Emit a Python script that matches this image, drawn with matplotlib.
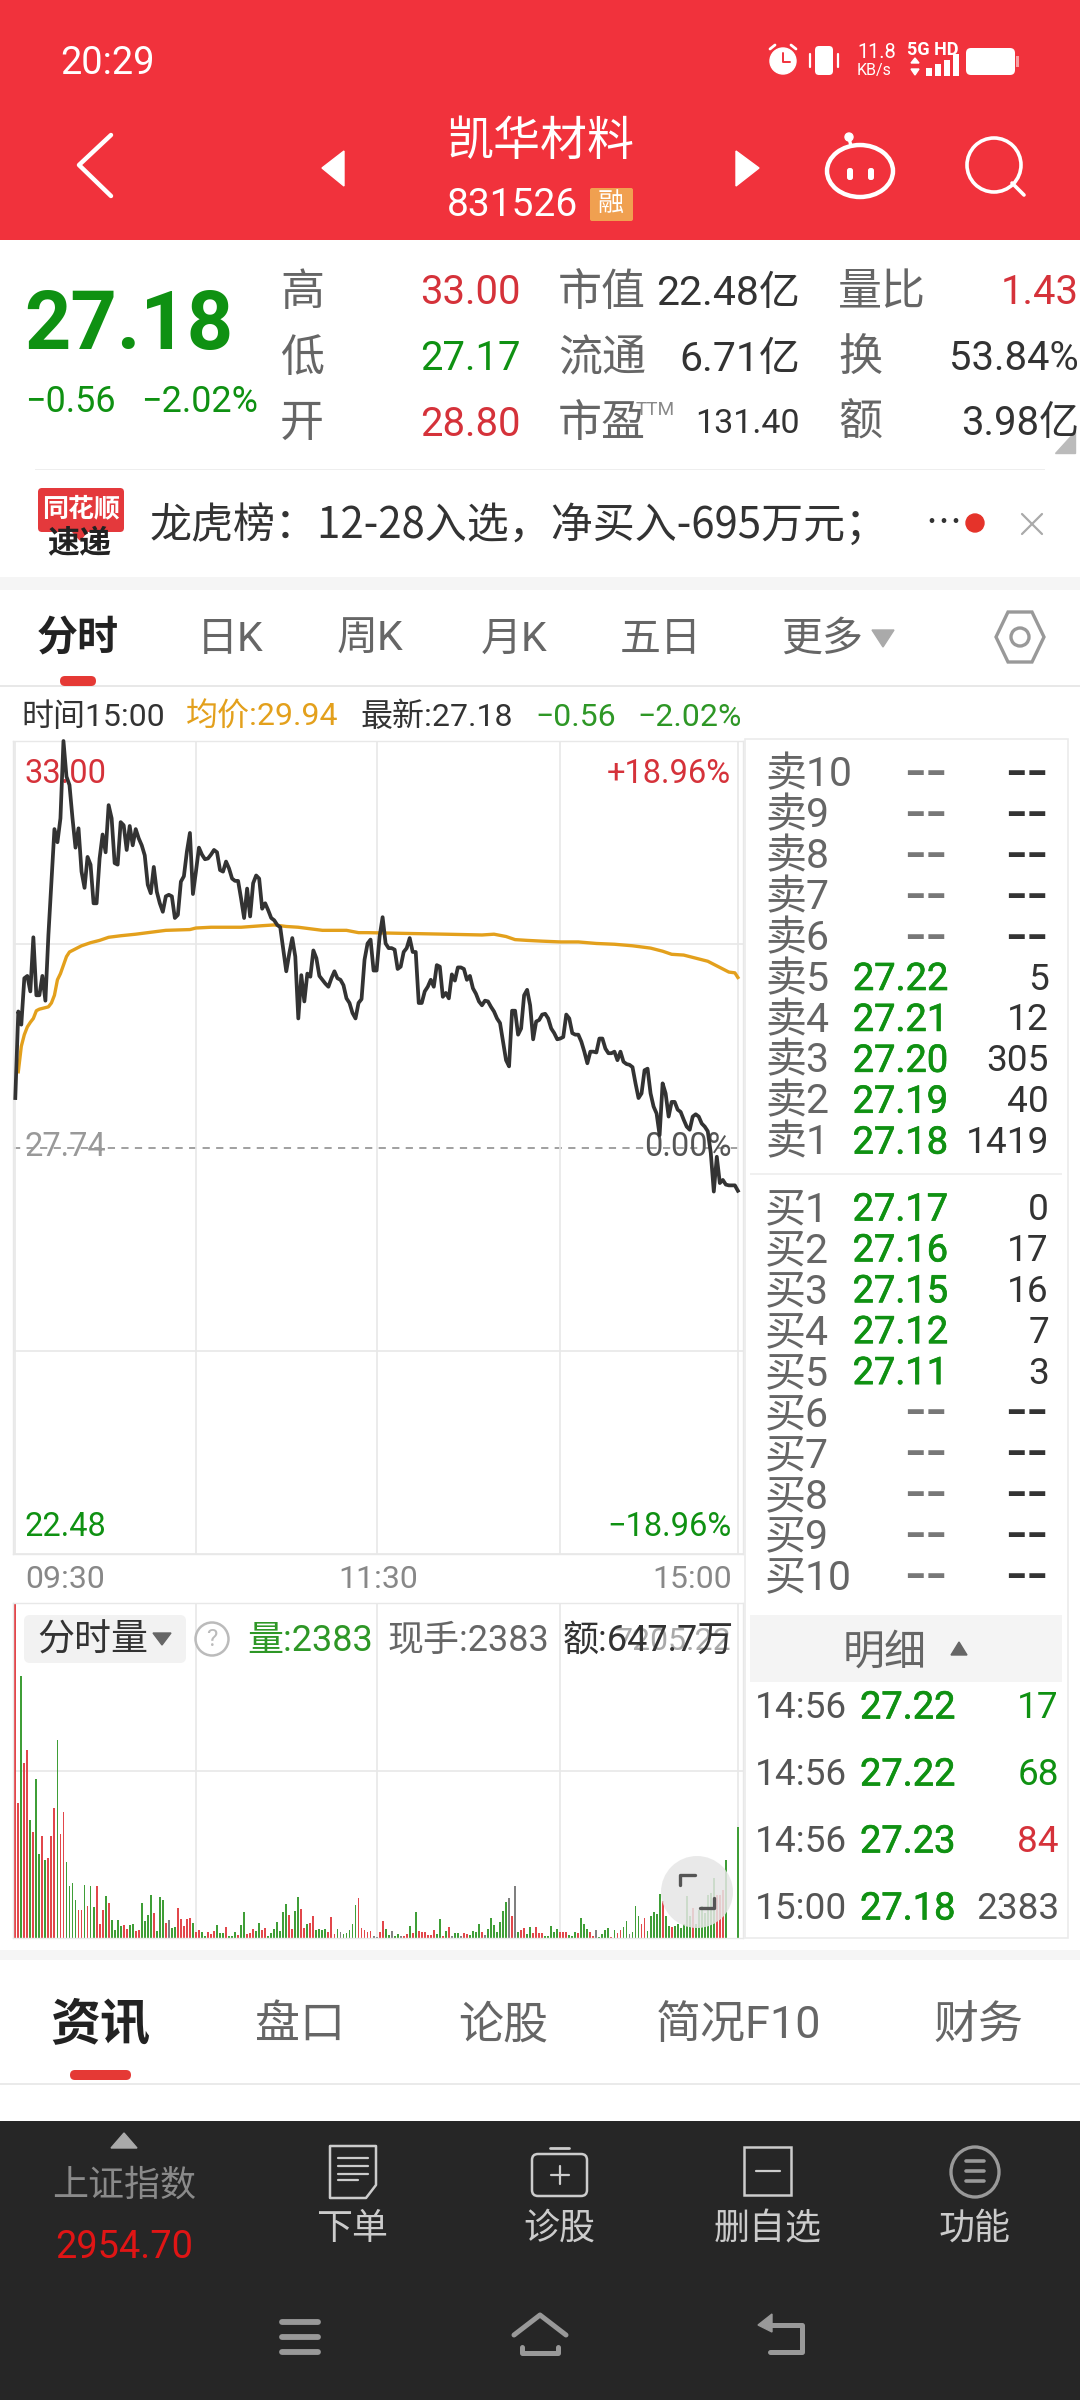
"""Recreate the intraday quote screen (分时) for 凯华材料 831526 and save it as out.png."""

from __future__ import annotations

import matplotlib

matplotlib.use("Agg")

import matplotlib.patheffects as pe
import matplotlib.pyplot as plt
from matplotlib.patches import Circle, Ellipse, FancyBboxPatch, Polygon, Rectangle

plt.rcParams["font.family"] = ["Roboto", "Noto Sans CJK SC", "DejaVu Sans"]

W, H = 1080, 2400

PREV_CLOSE = 27.74
PRICE_HIGH = 33.00
PRICE_LOW = 22.48
VOLUME_TOP = 7205.22

# price per minute, 09:30 to 15:00 (241 trading minutes)
price = [
    28.38, 29.50, 29.33, 29.93, 29.96, 29.76, 30.46, 29.71, 29.71, 29.96,
    29.64, 30.49, 31.18, 31.86, 31.69, 32.00, 33.00, 32.54, 32.43, 32.00,
    31.62, 31.87, 31.31, 31.10, 31.50, 31.40, 30.90, 30.90, 31.48, 31.79,
    31.56, 32.17, 32.00, 31.42, 31.40, 31.95, 31.91, 31.59, 31.90, 31.65,
    31.86, 31.74, 31.65, 31.52, 31.14, 31.03, 31.37, 31.05, 30.90, 30.79,
    30.99, 31.01, 30.99, 30.71, 30.75, 31.18, 31.25, 31.57, 31.81, 31.02,
    31.31, 31.62, 31.53, 31.47, 31.48, 31.53, 31.59, 31.56, 31.33, 31.31,
    31.44, 31.35, 31.22, 31.19, 31.19, 30.96, 30.71, 31.09, 30.73, 31.16,
    31.26, 31.22, 30.83, 30.90, 30.81, 30.71, 30.68, 30.62, 30.59, 30.30,
    30.02, 30.25, 30.45, 30.21, 29.41, 29.97, 29.63, 29.99, 29.95, 30.29,
    30.19, 29.96, 29.91, 29.86, 29.82, 29.93, 30.02, 29.93, 29.91, 29.84,
    29.67, 29.61, 29.48, 29.41, 29.61, 29.66, 30.17, 30.38, 30.43, 30.03,
    30.03, 30.47, 30.72, 30.38, 30.32, 30.32, 30.30, 30.05, 30.08, 30.27,
    30.32, 30.45, 30.27, 30.27, 29.61, 29.61, 29.76, 29.82, 29.91, 29.82,
    30.10, 30.08, 29.69, 29.74, 29.67, 29.98, 29.90, 30.07, 30.07, 30.05,
    29.91, 29.96, 29.80, 29.73, 29.63, 29.58, 29.64, 29.63, 29.56, 29.50,
    29.41, 29.35, 29.11, 28.87, 28.79, 29.51, 29.51, 29.20, 29.28, 29.71,
    29.78, 29.58, 29.14, 29.37, 29.39, 29.46, 29.47, 29.41, 29.28, 29.22,
    29.14, 29.15, 29.17, 29.46, 29.41, 29.22, 29.20, 29.20, 29.11, 28.98,
    28.83, 28.98, 28.98, 28.97, 29.15, 29.15, 29.02, 28.96, 28.96, 28.98,
    28.87, 28.98, 28.85, 28.82, 28.81, 28.78, 28.57, 28.38, 28.44, 28.74,
    28.76, 28.44, 28.27, 28.18, 27.90, 28.57, 28.44, 28.14, 28.33, 28.33,
    28.23, 28.20, 28.10, 28.01, 27.97, 28.14, 28.17, 28.14, 28.05, 28.01,
    27.95, 27.67, 27.17, 27.62, 27.28, 27.32, 27.26, 27.25, 27.25, 27.25,
    27.18,
]

# average price line, read at the minutes where it visibly bends
avg_minutes = [
    1, 2, 3, 4, 5, 6, 7, 8, 10, 11, 12, 13, 14, 15, 16, 17, 18, 19, 20, 22,
    25, 28, 31, 35, 40, 46, 50, 58, 60, 65, 75, 82, 86, 90, 94, 98, 102, 110,
    114, 117, 130, 143, 155, 159, 163, 166, 170, 175, 181, 187, 193, 199, 205,
    211, 215, 218, 222, 226, 230, 234, 237, 239, 240,
]
avg_price = [
    28.72, 29.05, 29.20, 29.30, 29.36, 29.41, 29.51, 29.53, 29.55, 29.56, 29.61,
    29.71, 29.91, 29.99, 30.10, 30.21, 30.27, 30.29, 30.31, 30.35, 30.39, 30.42,
    30.46, 30.48, 30.50, 30.53, 30.55, 30.56, 30.58, 30.59, 30.59, 30.61, 30.62,
    30.60, 30.59, 30.57, 30.55, 30.55, 30.52, 30.52, 30.51, 30.50, 30.49, 30.50,
    30.47, 30.43, 30.42, 30.41, 30.40, 30.40, 30.38, 30.37, 30.35, 30.32, 30.28,
    30.24, 30.23, 30.19, 30.15, 30.07, 30.01, 30.00, 29.94,
]

volume = [
    7205, 2904, 5628, 3764, 4051, 2545, 2273, 3420, 1814, 2187,
    1671, 1714, 2187, 2796, 4266, 2244, 2703, 1642, 1126, 1183,
    825, 609, 595, 1133, 681, 1111, 667, 1111, 301, 609,
    911, 753, 394, 179, 394, 251, 287, 201, 287, 294,
    151, 165, 753, 359, 502, 932, 538, 143, 882, 825,
    323, 394, 208, 237, 645, 416, 265, 409, 423, 323,
    122, 179, 136, 36, 136, 93, 151, 287, 108, 100,
    237, 36, 50, 136, 72, 287, 552, 93, 108, 194,
    151, 323, 179, 222, 50, 108, 194, 351, 151, 552,
    739, 502, 194, 574, 875, 631, 215, 294, 323, 480,
    179, 194, 165, 194, 122, 452, 79, 194, 122, 79,
    108, 179, 301, 710, 853, 222, 165, 122, 151, 36,
    22, 136, 366,
    194, 65, 151, 50, 79, 36, 36, 79, 265, 108,
    566, 151, 122, 136, 65, 65, 165, 93, 409, 36,
    151, 237, 36, 108, 108, 36, 108, 79, 65, 151,
    136, 294, 122, 65, 194, 423, 287, 122, 351, 581,
    767, 853, 466, 1126, 122, 179, 222, 79, 237, 108,
    237, 108, 108, 36, 50, 251, 136, 194, 136, 136,
    136, 65, 36, 136, 108, 430, 294, 194, 122, 36,
    165, 22, 93, 165, 222, 22, 179, 108, 165, 237,
    366, 93, 136, 681, 466, 308, 430, 151, 466, 552,
    523, 954, 789, 466, 251, 237, 251, 294, 208, 294,
    896, 480, 645, 301, 609, 681, 538, 932, 968, 1291,
    932, 932, 1040, 1685, 0, 0, 0, 2383,
]

# one letter per minute: u = up, d = down, f = flat
volume_dir = (
    "uuduududdu" "duuuduuddd" "duududduuu" "dudddduudd"
    "uuddddu" "ddd" "ufdduuuuud" "uudduuuddd" "udddudduuu"
    "dduudddddd" "duudduuduu" "dddduuudfd" "dddduuuuuf" "fuu"
    "ddfddfuudu" "duuuuuuddu" "dufddfuudd" "ddufdddddd" "dfufduuddu"
    "uuuddddduu" "uddduddduu" "fdddduduud" "dfddduuddd" "dduddudddd"
    "dduddddddd" "uuudfffd"
)

price_axis_ticks = [PRICE_HIGH, 30.37, 25.11, PRICE_LOW]
minute_ticks = [0, 60, 120, 181, 240]

stats_row_high = ["高", "33.00", "市值", "22.48亿", "量比", "1.43"]
stats_row_low = ["低", "27.17", "流通", "6.71亿", "换", "53.84%"]
stats_row_open = ["开", "28.80", "市盈", "131.40", "额", "3.98亿"]

tab_names = ["分时", "日K", "周K", "月K", "五日", "更多"]
tab_centers = [78, 230, 370, 514, 661, 822]

sell_labels = ["卖10", "卖9", "卖8", "卖7", "卖6", "卖5", "卖4", "卖3", "卖2", "卖1"]
sell_prices = ["--", "--", "--", "--", "--", "27.22", "27.21", "27.20", "27.19", "27.18"]
sell_lots = ["--", "--", "--", "--", "--", "5", "12", "305", "40", "1419"]
buy_labels = ["买1", "买2", "买3", "买4", "买5", "买6", "买7", "买8", "买9", "买10"]
buy_prices = ["27.17", "27.16", "27.15", "27.12", "27.11", "--", "--", "--", "--", "--"]
buy_lots = ["0", "17", "16", "7", "3", "--", "--", "--", "--", "--"]

tick_times = ["14:56", "14:56", "14:56", "15:00"]
tick_prices = ["27.22", "27.22", "27.23", "27.18"]
tick_lots = ["17", "68", "84", "2383"]

lower_tabs = ["资讯", "盘口", "论股", "简况F10", "财务"]
lower_tab_centers = [100, 300, 503, 739, 978]
footer_names = ["下单", "诊股", "删自选", "功能"]
footer_centers = [352, 559, 768, 975]

RED = "#D5323A"
GREEN = "#0F9112"
SOFT_GREEN = "#2E9726"
ORANGE = "#E3A01C"
DARK = "#333333"
GREY = "#666666"
GRID = "#E8E8E8"
BAR_COLORS = {"u": "#E2474B", "d": "#3F9E37", "f": "#808080"}
TEXT_DROP = 6  # matplotlib centres text a little high for these fonts


def add_axes_px(fig, left, top, right, bottom):
    return fig.add_axes([left / W, 1 - bottom / H, (right - left) / W, (bottom - top) / H])


def draw_price_panel(fig):
    ax = add_axes_px(fig, 13, 741, 743, 1554)
    ax.patch.set_alpha(0)
    ax.set_xlim(-0.76, 241.7)
    ax.set_ylim(PRICE_LOW, PRICE_HIGH)
    ax.set_xticks(minute_ticks)
    ax.set_yticks(price_axis_ticks)
    ax.grid(True, color=GRID, lw=1.2)
    ax.tick_params(length=0, labelbottom=False, labelleft=False)
    for spine in ax.spines.values():
        spine.set_color(GRID)
        spine.set_linewidth(1.0)
    ax.axhline(PREV_CLOSE, color="#999999", lw=1.3, dashes=(4, 3.5), zorder=1)

    trans = ax.get_yaxis_transform()
    for y, s, color, ha in [
        (PRICE_HIGH, "33.00", RED, "left"),
        (PREV_CLOSE, "27.74", "#999999", "left"),
        (PRICE_LOW, "22.48", GREEN, "left"),
        (PRICE_HIGH, "+18.96%", RED, "right"),
        (PREV_CLOSE, "0.00%", "#555555", "right"),
        (PRICE_LOW, "−18.96%", GREEN, "right"),
    ]:
        down_px = {PRICE_HIGH: 33, PREV_CLOSE: 0, PRICE_LOW: -27}[y]
        x = 0.016 if ha == "left" else 0.984
        ax.annotate(s, (x, y), xycoords=trans, xytext=(0, -down_px * 0.72), textcoords="offset points",
                    fontsize=23.5, color=color, ha=ha, va="center", zorder=2)

    ax.plot(avg_minutes, avg_price, color=ORANGE, lw=2.4, zorder=3, solid_joinstyle="round")
    ax.plot(range(len(price)), price, color=DARK, lw=2.7, zorder=4, solid_joinstyle="round", clip_on=False)


def draw_volume_panel(fig):
    ax = add_axes_px(fig, 13, 1603, 743, 1938)
    ax.patch.set_alpha(0)
    ax.set_xlim(-0.76, 241.7)
    ax.set_ylim(0, VOLUME_TOP)
    ax.set_xticks(minute_ticks)
    ax.set_yticks([VOLUME_TOP / 2])
    ax.grid(True, color=GRID, lw=1.2)
    ax.set_axisbelow(True)
    ax.tick_params(length=0, labelbottom=False, labelleft=False)
    for spine in ax.spines.values():
        spine.set_color(GRID)
        spine.set_linewidth(1.0)
    colors = [BAR_COLORS[d] for d in volume_dir]
    ax.bar(range(len(volume)), volume, width=0.62, color=colors, linewidth=0)


def put(ui, x, y, s, px, color=DARK, ha="left", va="center", weight="normal", family=None, z=5):
    kw = {"family": family} if family else {}
    return ui.text(x, y + TEXT_DROP, s, fontsize=px * 0.72, color=color, ha=ha, va=va, weight=weight, zorder=z, **kw)


def put_medium(ui, x, y, s, px, color, ha="left"):
    # regular face with a hair of stroke, the bundled medium reads too heavy here
    t = put(ui, x, y, s, px, color, ha=ha)
    t.set_path_effects([pe.withStroke(linewidth=0.5, foreground=color)])
    return t


def rect(ui, x0, y0, x1, y1, color, z=1):
    ui.add_patch(Rectangle((x0, y0), x1 - x0, y1 - y0, color=color, lw=0, zorder=z))


def rounded(ui, x0, y0, x1, y1, r, face, edge="none", lw=0, z=2):
    ui.add_patch(FancyBboxPatch((x0 + r, y0 + r), x1 - x0 - 2 * r, y1 - y0 - 2 * r,
                                boxstyle=f"round,pad={r}", fc=face, ec=edge, lw=lw, zorder=z))


def stroke(ui, xs, ys, color, lw, z=4):
    ui.plot(xs, ys, color=color, lw=lw, zorder=z, solid_capstyle="round", solid_joinstyle="round")


def draw_header(ui):
    rect(ui, 0, 0, W, 240, "#F1323C")
    put(ui, 60, 57, "20:29", 38, "white")

    # status bar icons
    ui.add_patch(Circle((783, 61), 13, color="white", zorder=4))
    stroke(ui, [783, 783, 790], [53, 62, 62], "#F1323C", 1.4, z=5)
    stroke(ui, [770, 775], [49, 45], "white", 2)
    stroke(ui, [796, 791], [49, 45], "white", 2)
    rounded(ui, 815, 46, 833, 75, 4, "white")
    stroke(ui, [810, 810], [54, 67], "white", 1.6)
    stroke(ui, [838, 838], [54, 67], "white", 1.6)
    put(ui, 857, 46, "11.8", 20, "white")
    put(ui, 857, 64, "KB/s", 16, "white")
    put(ui, 907, 44, "5G HD", 18, "white", weight="bold")
    for i, top in enumerate([68, 64, 60, 54]):
        rect(ui, 926 + i * 9, top, 932 + i * 9, 76, "white", z=4)
    ui.add_patch(Polygon([[911, 63], [919, 63], [915, 58]], color="white", zorder=4))
    ui.add_patch(Polygon([[911, 69], [919, 69], [915, 75]], color="white", zorder=4))
    rounded(ui, 966, 48, 1015, 75, 5, "white")
    rect(ui, 1016, 56, 1019, 67, "#F7A0A4", z=4)

    # navigation row
    stroke(ui, [111, 79, 111], [135, 165, 196], "white", 3.2)
    ui.add_patch(Polygon([[344, 151], [322, 168], [344, 186]], color="white", zorder=4))
    ui.add_patch(Polygon([[736, 151], [759, 168], [736, 186]], color="white", zorder=4))
    put(ui, 540, 136, "凯华材料", 47, "white", ha="center")
    put(ui, 447, 200, "831526", 39, "white")
    rounded(ui, 590, 188, 633, 221, 2, "#F0A050")
    put(ui, 611, 198, "融", 26, "white", ha="center")

    ui.add_patch(Ellipse((860, 171), 66, 52, fc="none", ec="white", lw=3.2, zorder=4))
    stroke(ui, [851, 849], [146, 138], "white", 2.4)
    ui.add_patch(Circle((849, 137), 4, color="white", zorder=4))
    rounded(ui, 847, 168, 853, 180, 2.5, "white")
    rounded(ui, 868, 168, 874, 180, 2.5, "white")

    ui.add_patch(Circle((994, 165), 27, fc="none", ec="white", lw=2.6, zorder=4))
    stroke(ui, [1012, 1024], [183, 195], "white", 2.6)


def draw_stats(ui):
    put(ui, 24, 321, "27.18", 81, GREEN, weight="bold")
    put(ui, 25, 396, "−0.56", 36, GREEN)
    put(ui, 141, 396, "−2.02%", 36, GREEN)

    rows = [(stats_row_high, 287), (stats_row_low, 353), (stats_row_open, 418)]
    value_colors = {"33.00": RED, "27.17": GREEN, "28.80": RED, "1.43": RED}
    for row, y in rows:
        put(ui, 280, y, row[0], 44, GREY)
        put(ui, 521, y, row[1], 40, value_colors[row[1]], ha="right")
        put(ui, 558, y, row[2], 44, GREY)
        put(ui, 800, y, row[3], 34 if row[3] == "131.40" else 41, DARK, ha="right")
        put(ui, 838, y, row[4], 44, GREY)
        put(ui, 1079, y, row[5], 40, value_colors.get(row[5], DARK), ha="right")
    put(ui, 636, 404, "TTM", 19, "#888888")
    ui.add_patch(Polygon([[1075, 431], [1075, 453], [1055, 453]], color="#BBBBBB", zorder=4))
    rect(ui, 35, 469, 1045, 470, "#EEEEEE")

    # news strip
    rounded(ui, 38, 488, 124, 532, 4, "#E4393C")
    ui.add_patch(Polygon([[72, 531], [88, 531], [80, 540]], color="#E4393C", zorder=2))
    put(ui, 81, 503, "同花顺", 26, "white", ha="center", weight="bold")
    put(ui, 79, 538, "速递", 32, "#222222", ha="center", weight="bold")
    put(ui, 150, 521, "龙虎榜：12-28入选，净买入-695万元；", 42, DARK, family="Noto Sans CJK SC")
    put(ui, 925, 518, "…", 36, DARK, family="Noto Sans CJK SC")
    ui.add_patch(Circle((975, 523), 9, color="#E5332A", zorder=4))
    stroke(ui, [1022, 1042], [514, 534], "#AAAAAA", 1.6)
    stroke(ui, [1042, 1022], [514, 534], "#AAAAAA", 1.6)
    rect(ui, 0, 577, W, 590, "#F5F5F5")


def draw_tabs(ui):
    for i, (name, cx) in enumerate(zip(tab_names, tab_centers)):
        if i == 0:
            put(ui, cx, 633, name, 41, "#222222", ha="center", weight="bold")
        else:
            put(ui, cx, 633, name, 41, GREY, ha="center")
    ui.add_patch(Polygon([[872, 630], [894, 630], [883, 647]], color="#AAAAAA", zorder=4))
    ui.add_patch(Polygon([[1008, 612], [1032, 612], [1044, 637], [1032, 662], [1008, 662], [996, 637]],
                         fc="none", ec="#999999", lw=2.4, zorder=4))
    ui.add_patch(Circle((1020, 637), 9, fc="none", ec="#999999", lw=2.4, zorder=4))
    rounded(ui, 60, 676, 96, 686, 5, "#E53935", z=4)
    rect(ui, 0, 685, W, 686.5, "#E8E8E8")

    put(ui, 21, 711, "时间15:00", 32, DARK)
    put(ui, 186, 711, "均价:29.94", 32, ORANGE)
    put(ui, 360, 711, "最新:27.18", 32, DARK)
    put(ui, 535, 711, "−0.56", 32, SOFT_GREEN)
    put(ui, 637, 711, "−2.02%", 32, SOFT_GREEN)

    put(ui, 25, 1574, "09:30", 32, "#888888")
    put(ui, 378, 1574, "11:30", 32, "#888888", ha="center")
    put(ui, 732, 1574, "15:00", 32, "#888888", ha="right")


def draw_order_book(ui):
    ui.add_patch(Rectangle((745, 739), 323, 1199, fc="none", ec="#EBEBEB", lw=1.2, zorder=2))
    rect(ui, 750, 1173, 1062, 1175, "#F0F0F0", z=2)

    def dash(x, y, color):
        # the dashes are wide in the app, so they use the wider CJK hyphen
        put(ui, x, y - 3, "--", 62, color, ha="right", family="Noto Sans CJK SC")

    for labels, prices, lots, y0 in [
        (sell_labels, sell_prices, sell_lots, 769),
        (buy_labels, buy_prices, buy_lots, 1204),
    ]:
        for i, (label, p, lot) in enumerate(zip(labels, prices, lots)):
            y = y0 + i * 40.9
            put(ui, 765, y, label, 41, "#666666")
            if p == "--":
                dash(947, y, "#777777")
                dash(1048, y, "#333333")
            else:
                put_medium(ui, 948, y, p, 38, GREEN, ha="right")
                put(ui, 1049, y, lot, 37, DARK, ha="right")

    rect(ui, 750, 1615, 1062, 1682, "#F4F4F4", z=2)
    put(ui, 885, 1647, "明细", 42, "#666666", ha="center")
    ui.add_patch(Polygon([[951, 1655], [967, 1655], [959, 1642]], color="#666666", zorder=4))

    lot_colors = [GREEN, GREEN, RED, "#555555"]
    for i, (t, p, lot) in enumerate(zip(tick_times, tick_prices, tick_lots)):
        y = 1702 + i * 67
        put(ui, 755, y, t, 37, "#555555")
        put_medium(ui, 860, y, p, 38, GREEN)
        put(ui, 1059, y, lot, 37, lot_colors[i], ha="right")


def draw_volume_header(ui):
    rounded(ui, 24, 1615, 186, 1663, 6, "#F2F2F2")
    put(ui, 37, 1635, "分时量", 37, DARK)
    ui.add_patch(Polygon([[153, 1633], [171, 1633], [162, 1645]], color="#666666", zorder=5))
    ui.add_patch(Circle((212, 1639), 16.5, fc="none", ec="#BBBBBB", lw=1.8, zorder=4))
    put(ui, 212, 1633, "?", 24, "#BBBBBB", ha="center")
    put(ui, 247, 1635, "量:2383", 36, SOFT_GREEN)
    put(ui, 387, 1635, "现手:2383", 36, "#666666")
    put(ui, 732, 1635, f"{VOLUME_TOP:.2f}", 32, "#AAAAAA", ha="right", z=4)
    put(ui, 563, 1635, "额:647.7万", 36, DARK, z=5)

    # expand button floats over the last bars
    ui.add_patch(Circle((697, 1892), 36, color="#E6E6E6", alpha=0.85, lw=0, zorder=6))
    stroke(ui, [680, 680, 695], [1885, 1875, 1875], "#555555", 2.4, z=7)
    stroke(ui, [700, 714, 714], [1908, 1908, 1898], "#555555", 2.4, z=7)


def draw_lower_tabs(ui):
    rect(ui, 0, 1950, W, 1960, "#F5F5F5")
    for i, (name, cx) in enumerate(zip(lower_tabs, lower_tab_centers)):
        if i == 0:
            put(ui, cx, 2020, name, 50, "#222222", ha="center", weight="bold")
        else:
            put(ui, cx, 2020, name, 45, GREY, ha="center")
    rounded(ui, 70, 2070, 131, 2080, 5, "#E53935", z=4)
    rect(ui, 0, 2083, W, 2085, "#EAEAEA")


def draw_footer(ui):
    rect(ui, 0, 2121, W, H, "#262626")
    ui.add_patch(Polygon([[111, 2148], [137, 2148], [124, 2133]], color="#AAAAAA", zorder=4))
    put(ui, 124, 2180, "上证指数", 36, "#8A8A8A", ha="center")
    put(ui, 124, 2241, "2954.70", 38, "#E01515", ha="center")
    for name, cx in zip(footer_names, footer_centers):
        put(ui, cx, 2223, name, 36, "#CCCCCC", ha="center")

    # 下单
    ui.add_patch(Polygon([[330, 2146], [376, 2146], [376, 2185], [366, 2198], [330, 2198]],
                         fc="none", ec="#CCCCCC", lw=1.8, joinstyle="round", zorder=4))
    for y, x1 in [(2158, 368), (2166, 368), (2174, 368), (2180, 358)]:
        stroke(ui, [338, x1], [y, y], "#CCCCCC", 1.6)
    # 诊股
    rounded(ui, 532, 2154, 587, 2196, 6, "none", "#CCCCCC", 1.8, z=4)
    stroke(ui, [550, 569], [2148, 2148], "#CCCCCC", 2)
    stroke(ui, [560, 560], [2166, 2184], "#CCCCCC", 1.6)
    stroke(ui, [551, 569], [2175, 2175], "#CCCCCC", 1.6)
    # 删自选
    ui.add_patch(Rectangle((744, 2147), 47, 48, fc="none", ec="#CCCCCC", lw=1.8, zorder=4))
    stroke(ui, [756, 780], [2171, 2171], "#CCCCCC", 1.6)
    # 功能
    ui.add_patch(Ellipse((975, 2172), 48, 50, fc="none", ec="#999999", lw=2.4, zorder=4))
    for y in [2161, 2171, 2181]:
        stroke(ui, [966, 984], [y, y], "#999999", 2.6)

    # system navigation bar
    for y in [2322, 2337, 2352]:
        stroke(ui, [282, 318], [y, y], "#999999", 4.2)
    stroke(ui, [514, 540, 566], [2335, 2315, 2335], "#999999", 3.6)
    stroke(ui, [522, 522, 558, 558], [2347, 2353, 2353, 2347], "#999999", 3.6)
    stroke(ui, [766, 802, 802, 770], [2325, 2325, 2352, 2352], "#999999", 3.6)
    ui.add_patch(Polygon([[758, 2325], [772, 2314], [772, 2332]], color="#999999", zorder=4))


def main() -> None:
    if not (len(price) == len(volume) == len(volume_dir) == 241):
        raise ValueError(f"bad lengths: {len(price)} {len(volume)} {len(volume_dir)}")

    fig = plt.figure(figsize=(W / 100, H / 100), dpi=100, facecolor="white")

    draw_price_panel(fig)
    draw_volume_panel(fig)

    ui = fig.add_axes([0, 0, 1, 1], zorder=10)
    ui.set_xlim(0, W)
    ui.set_ylim(H, 0)
    ui.axis("off")
    ui.patch.set_alpha(0)

    draw_header(ui)
    draw_stats(ui)
    draw_tabs(ui)
    draw_order_book(ui)
    draw_volume_header(ui)
    draw_lower_tabs(ui)
    draw_footer(ui)

    fig.savefig("out.png", dpi=100)
    plt.close(fig)


main()
